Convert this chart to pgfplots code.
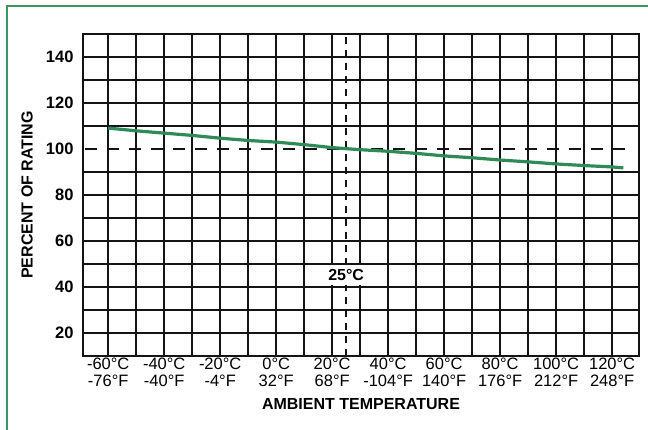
\documentclass[border=0pt]{standalone}
\usepackage{fontspec}
\setmainfont{Liberation Sans}
\usepackage{pgfplots}
\pgfplotsset{compat=1.18}
\definecolor{curvegreen}{RGB}{46,139,87}
\definecolor{framegreen}{RGB}{60,150,100}
\definecolor{gridblack}{RGB}{20,20,20}

\begin{document}
\begin{tikzpicture}[x=1pt,y=1pt]
\useasboundingbox (0,0) rectangle (648,430);
\clip (0,0) rectangle (648,430);
\draw[framegreen, line width=1.8pt] (7,-20) rectangle (680,424);
\begin{axis}[
    at={(83pt,74pt)}, anchor=south west,
    width=556pt, height=322pt, scale only axis,
    xmin=-69, xmax=129.6,
    ymin=10, ymax=150,
    axis line style={gridblack, line width=1.6pt},
    major tick length=0pt,
    xtick={-60,-50,...,120},
    xticklabels={{-60°C\\-76°F},,{-40°C\\-40°F},,{-20°C\\-4°F},,{0°C\\32°F},,{20°C\\68°F},,{40°C\\-104°F},,{60°C\\140°F},,{80°C\\176°F},,{100°C\\212°F},,{120°C\\248°F}},
    xmajorgrids=true,
    ytick={20,40,...,140},
    extra y ticks={20,30,...,90,110,120,130,140},
    extra y tick labels={},
    extra y tick style={ymajorgrids=true},
    major grid style={gridblack, line width=1.6pt},
    /pgf/number format/assume math mode=true,
    xticklabel style={align=center, font=\fontsize{16.5}{16.5}\selectfont, inner sep=1pt, yshift=-1pt},
    yticklabel style={font=\fontsize{16.5}{16.5}\selectfont\bfseries, xshift=-6pt},
    xlabel={AMBIENT TEMPERATURE},
    ylabel={PERCENT OF RATING},
    label style={font=\fontsize{16}{16}\selectfont\bfseries},
    xlabel style={at={(axis description cs:0.5,-0.1506)}, anchor=center},
    ylabel style={at={(axis description cs:-0.1007,0.5)}, anchor=center, rotate=0},
    clip=false,
]
\addplot[gridblack, line width=1.6pt, dash pattern=on 12pt off 10pt]
    coordinates {(-68.3,100)(126.7,100)};
\addplot[gridblack, line width=1.6pt, dash pattern=on 7pt off 6pt]
    coordinates {(25,10)(25,150)};
\addplot[curvegreen, line width=3.2pt]
    coordinates {
    (-60,109.1)(-50,107.9)(-40,106.9)(-30,105.9)(-20,104.7)(-10,103.7)
    (0,103.0)(10,101.9)(20,100.6)(30,99.7)(40,99.0)(50,98.1)(60,97.0)
    (70,96.2)(80,95.2)(90,94.4)(100,93.5)(110,92.8)(120,92.2)(124,91.8)
    };
\node[fill=white, inner xsep=1.5pt, inner ysep=4pt, font=\fontsize{16}{16}\selectfont\bfseries]
    at (axis cs:25,45.2) {25°C};
\end{axis}
\end{tikzpicture}
\end{document}
